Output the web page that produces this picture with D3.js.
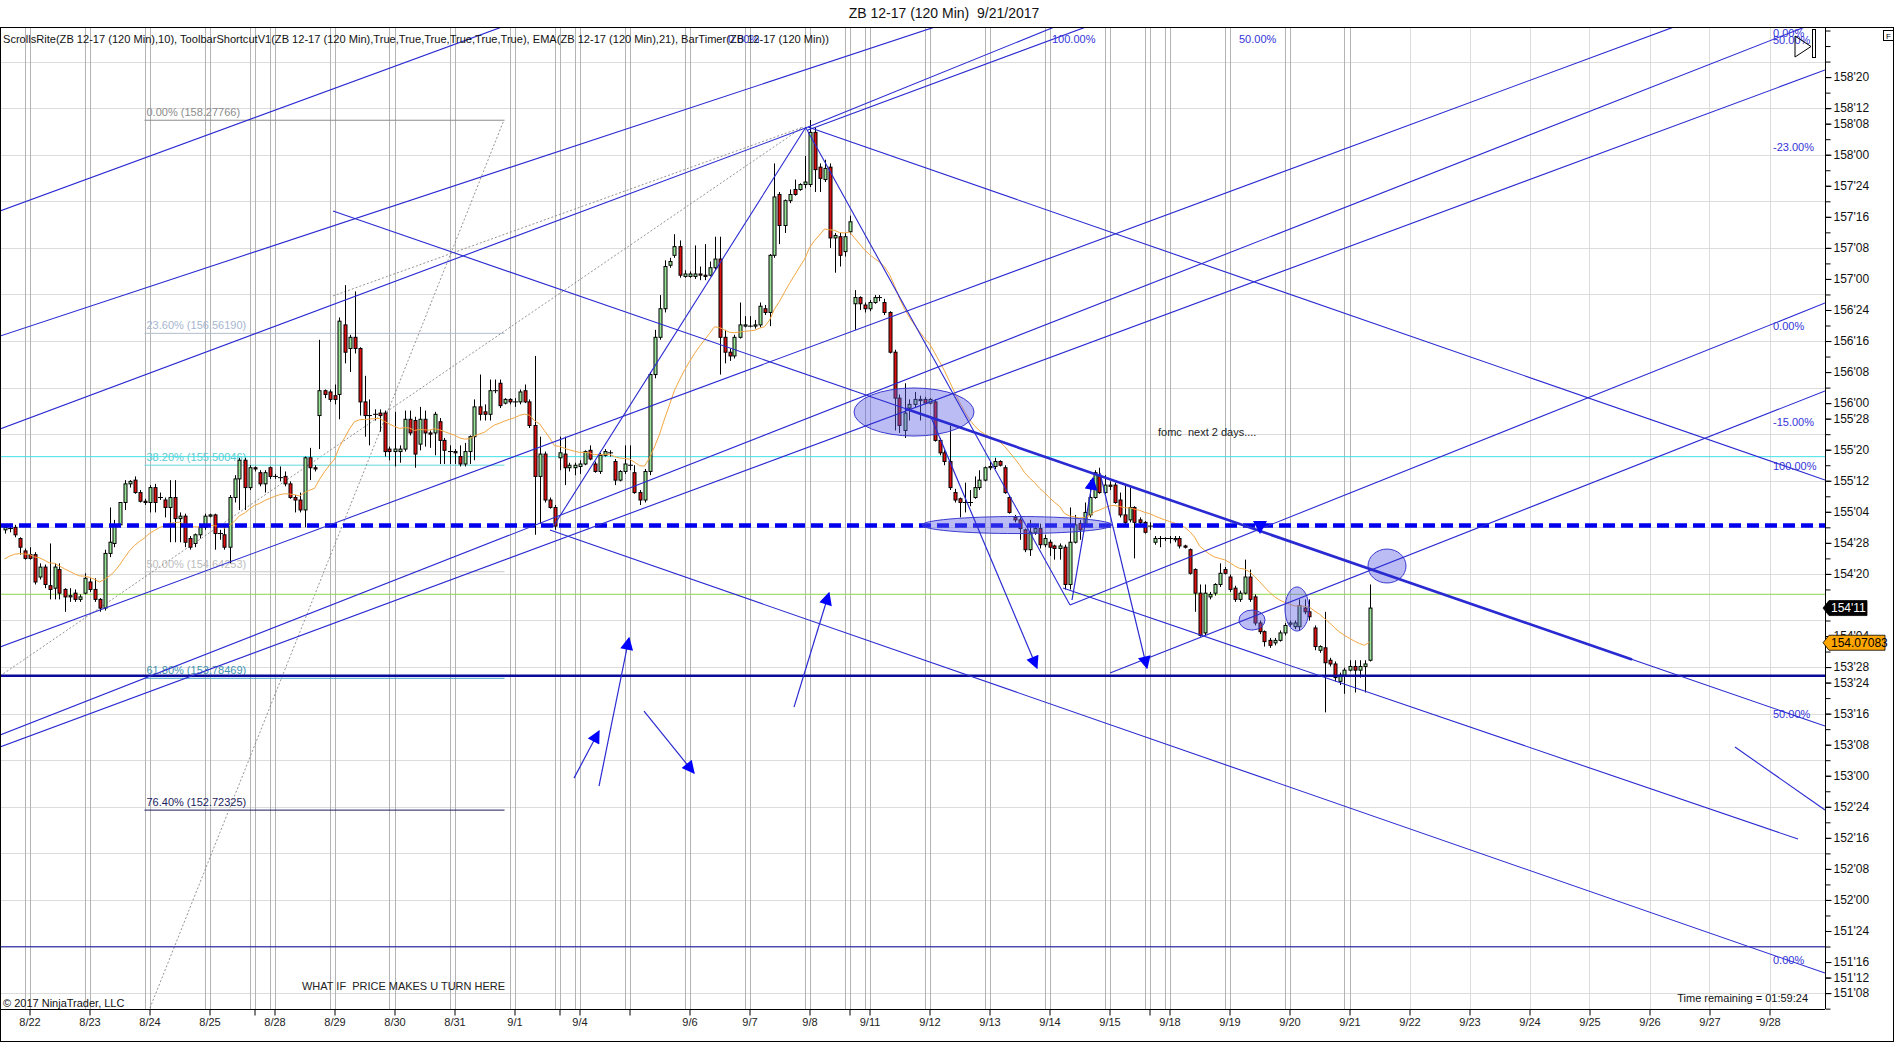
<!DOCTYPE html>
<html>
<head>
<meta charset="utf-8">
<script src="https://cdn.jsdelivr.net/npm/d3@7"></script>
<style>
  body { margin: 0; background: #fff; }
  svg { display: block; font-family: Arial, "Liberation Sans", sans-serif; }
</style>
</head>
<body>
<div id="chart"></div>
<script>
// ---- bars (120 min), index = bar slot on the time axis ----
const opens = [154.98,154.99,155.00,154.91,154.81,154.78,154.78,154.60,154.68,154.53,154.51,154.66,154.50,154.44,154.47,154.42,154.47,154.56,154.50,154.42,
154.35,154.79,154.87,155.02,155.20,155.35,155.38,155.28,155.21,155.20,155.32,155.24,155.22,155.16,155.24,155.07,155.09,154.91,154.87,154.94,
155.00,155.09,155.10,154.95,154.94,154.84,155.24,155.39,155.54,155.32,155.48,155.44,155.35,155.48,155.41,155.40,155.41,155.35,155.24,155.22,
155.14,155.56,155.48,155.90,156.10,156.09,156.06,156.07,156.63,156.44,156.53,156.44,156.01,155.90,155.91,155.92,155.92,155.63,155.61,155.61,
155.63,155.87,155.86,155.67,155.87,155.76,155.76,155.85,155.70,155.61,155.61,155.57,155.51,155.61,155.73,155.97,155.93,155.91,156.10,156.16,
156.00,156.03,156.01,156.01,156.10,156.01,155.82,155.41,155.59,155.22,155.16,155.56,155.59,155.48,155.48,155.49,155.51,155.62,155.51,155.45,
155.58,155.60,155.53,155.38,155.45,155.50,155.44,155.28,155.22,155.45,156.23,156.53,156.76,157.11,157.19,157.26,157.02,157.02,157.02,157.04,
157.03,157.03,157.09,157.16,156.53,156.41,156.38,156.53,156.62,156.62,156.62,156.63,156.76,156.73,157.19,157.68,157.43,157.63,157.72,157.72,
157.76,157.76,158.18,157.90,157.80,157.90,157.33,157.34,157.22,157.38,156.80,156.85,156.79,156.76,156.81,156.85,156.81,156.73,156.41,156.04,
155.78,155.96,155.99,156.02,156.03,156.00,156.01,155.70,155.60,155.53,155.28,155.23,155.20,155.20,155.24,155.32,155.38,155.48,155.49,155.53,
155.48,155.24,155.08,155.06,154.98,154.82,154.96,154.99,154.86,154.88,154.85,154.83,154.84,154.54,154.88,155.03,155.03,155.10,155.24,155.42,
155.28,155.34,155.34,155.22,155.10,155.06,155.16,155.06,155.04,155.01,154.88,154.91,154.91,154.91,154.90,154.91,154.85,154.82,154.66,154.47,
154.15,154.44,154.47,154.54,154.66,154.60,154.51,154.42,154.47,154.60,154.44,154.23,154.16,154.09,154.07,154.09,154.15,154.22,154.20,154.20,
154.35,154.32,154.19,154.01,154.03,153.93,153.90,153.76,153.81,153.85,153.88,153.85,153.88,153.93];
const highs = [155.01,155.03,155.02,154.92,154.83,154.84,154.80,154.71,154.70,154.87,154.71,154.71,154.51,154.51,154.50,154.46,154.63,154.59,154.59,154.43,
154.82,155.16,155.06,155.20,155.38,155.38,155.41,155.30,155.23,155.34,155.35,155.28,155.24,155.38,155.38,155.12,155.11,154.93,154.95,155.02,
155.11,155.11,155.11,154.98,155.00,155.26,155.42,155.56,155.56,155.50,155.49,155.46,155.46,155.49,155.43,155.49,155.45,155.37,155.26,155.28,
155.57,155.64,155.50,156.51,156.11,156.11,156.15,156.69,156.95,156.55,156.90,156.45,156.22,156.03,155.95,155.95,155.94,155.65,155.93,155.66,
155.94,155.94,155.89,155.97,155.94,155.78,155.93,155.88,155.72,155.66,155.63,155.66,155.68,155.74,156.03,156.23,155.99,156.19,156.19,156.19,
156.04,156.04,156.04,156.11,156.15,156.03,156.38,155.73,155.61,155.24,155.18,155.73,155.73,155.52,155.52,155.54,155.62,155.66,155.53,155.60,
155.63,155.62,155.55,155.46,155.66,155.66,155.50,155.30,155.47,156.25,156.59,156.87,157.15,157.17,157.36,157.31,157.07,157.06,157.27,157.10,
157.28,157.14,157.34,157.34,156.59,156.44,156.55,156.81,156.70,156.70,156.67,156.81,156.79,157.20,157.93,157.70,157.64,157.72,157.80,157.77,
157.99,158.28,158.22,157.93,157.96,157.93,157.37,157.37,157.37,157.51,156.91,156.86,156.81,156.83,156.87,156.87,156.84,156.74,156.43,156.07,
156.16,156.03,156.09,156.06,156.05,156.04,156.03,155.72,155.62,155.82,155.31,155.24,155.36,155.30,155.41,155.46,155.49,155.53,155.56,155.54,
155.50,155.26,155.10,155.08,154.99,155.06,155.01,155.03,154.94,154.90,154.86,154.87,154.86,155.16,155.10,155.06,155.20,155.38,155.46,155.48,
155.42,155.37,155.36,155.28,155.34,155.32,155.17,155.08,155.05,155.04,154.93,154.93,154.92,154.93,154.93,154.93,154.86,154.83,154.67,154.54,
154.54,154.48,154.55,154.71,154.68,154.62,154.53,154.49,154.74,154.66,154.46,154.25,154.17,154.11,154.11,154.17,154.23,154.25,154.25,154.42,
154.42,154.42,154.21,154.05,154.32,153.95,153.92,153.83,153.87,153.93,153.93,153.93,153.93,154.54];
const lows = [154.95,154.96,154.92,154.78,154.74,154.74,154.54,154.58,154.51,154.42,154.42,154.42,154.32,154.40,154.40,154.40,154.46,154.48,154.40,154.32,
154.33,154.76,154.84,155.00,155.14,155.32,155.27,155.20,155.18,155.12,155.12,155.22,155.08,154.88,154.88,154.88,154.84,154.82,154.84,154.91,
154.98,155.08,154.82,154.90,154.82,154.71,155.20,155.14,155.14,155.30,155.45,155.33,155.28,155.39,155.39,155.37,155.33,155.23,155.12,155.12,
155.00,155.38,155.45,155.63,156.04,156.01,155.99,155.87,156.32,156.25,156.40,155.90,155.73,155.66,155.86,155.77,155.57,155.54,155.49,155.52,
155.61,155.74,155.48,155.62,155.65,155.64,155.58,155.51,155.51,155.51,155.51,155.49,155.49,155.51,155.54,155.86,155.86,155.86,156.08,155.96,
155.99,155.99,155.97,155.99,156.00,155.80,154.94,155.03,155.20,155.15,154.98,155.46,155.34,155.45,155.42,155.43,155.50,155.54,155.44,155.43,
155.57,155.57,155.34,155.37,155.43,155.46,155.27,155.18,155.20,155.42,156.20,156.51,156.73,157.09,157.17,157.01,157.01,157.01,157.00,156.99,
156.99,157.02,157.07,156.23,156.32,156.34,156.36,156.52,156.61,156.61,156.60,156.61,156.71,156.62,157.17,157.28,157.37,157.61,157.67,157.71,
157.73,157.74,157.70,157.70,157.78,157.25,157.05,157.10,157.18,157.36,156.59,156.75,156.73,156.74,156.80,156.82,156.71,156.40,155.78,155.76,
155.72,155.86,155.96,155.86,155.99,155.99,155.69,155.58,155.50,155.30,155.20,155.08,155.12,155.17,155.23,155.30,155.37,155.46,155.47,155.49,
155.27,155.11,155.04,154.90,154.80,154.77,154.94,154.83,154.84,154.77,154.74,154.74,154.50,154.50,154.87,154.90,155.01,155.08,155.23,155.27,
155.27,155.30,155.19,155.08,155.02,155.04,154.75,155.02,154.95,154.98,154.86,154.84,154.89,154.87,154.88,154.83,154.83,154.62,154.32,154.12,
154.13,154.42,154.45,154.52,154.62,154.48,154.40,154.40,154.46,154.40,154.21,154.14,154.04,154.03,154.05,154.08,154.13,154.20,154.18,154.17,
154.30,154.25,154.01,153.99,153.51,153.88,153.76,153.73,153.66,153.84,153.67,153.79,153.67,153.92];
const closes = [155.00,154.99,154.94,154.84,154.75,154.75,154.56,154.68,154.54,154.50,154.68,154.47,154.44,154.45,154.42,154.44,154.59,154.50,154.42,154.35,
154.79,154.88,155.02,155.20,155.35,155.37,155.28,155.21,155.20,155.32,155.20,155.24,155.16,155.24,155.07,155.09,154.88,154.84,154.94,155.00,
155.09,155.10,154.95,154.95,154.84,155.24,155.39,155.54,155.32,155.48,155.47,155.35,155.44,155.41,155.41,155.40,155.35,155.24,155.22,155.14,
155.56,155.48,155.47,156.10,156.07,156.03,156.03,156.66,156.41,156.53,156.44,156.01,155.90,155.90,155.91,155.90,155.61,155.61,155.63,155.63,
155.87,155.76,155.59,155.87,155.76,155.75,155.91,155.70,155.62,155.61,155.60,155.51,155.61,155.73,155.97,155.91,155.91,156.10,156.10,155.98,
156.03,156.01,156.01,156.09,156.01,155.82,155.41,155.59,155.22,155.16,155.01,155.60,155.48,155.50,155.50,155.51,155.61,155.55,155.45,155.58,
155.61,155.60,155.38,155.45,155.51,155.50,155.28,155.22,155.45,156.23,156.53,156.76,157.10,157.14,157.26,157.03,157.04,157.04,157.04,157.03,
157.02,157.09,157.16,156.53,156.41,156.38,156.53,156.63,156.63,156.62,156.63,156.78,156.73,157.19,157.66,157.43,157.63,157.68,157.68,157.76,
157.78,158.18,157.88,157.81,157.89,157.33,157.35,157.19,157.34,157.46,156.85,156.80,156.76,156.81,156.85,156.85,156.73,156.41,156.04,155.82,
155.92,155.99,156.03,156.03,156.00,156.03,155.70,155.60,155.53,155.32,155.22,155.20,155.20,155.20,155.32,155.38,155.48,155.49,155.53,155.50,
155.28,155.12,155.06,154.99,154.82,154.96,154.99,154.86,154.91,154.84,154.83,154.85,154.54,154.88,155.02,154.98,155.12,155.24,155.44,155.28,
155.34,155.33,155.20,155.10,155.04,155.16,155.04,155.04,154.96,155.01,154.91,154.91,154.91,154.91,154.91,154.85,154.84,154.63,154.47,154.13,
154.47,154.46,154.54,154.63,154.63,154.50,154.42,154.47,154.60,154.42,154.23,154.16,154.08,154.05,154.09,154.15,154.21,154.23,154.23,154.37,
154.32,154.28,154.04,154.04,153.91,153.90,153.79,153.81,153.85,153.88,153.85,153.88,153.90,154.35];
const emaPeriod = 21;
const emaStart = 154.72;          // EMA value where the chart begins
const emaLabel = 154.07083;       // value shown in the orange axis marker

// ---- time axis ----
const dateLabels = ['8/22','8/23','8/24','8/25','8/28','8/29','8/30','8/31','9/1','9/4','9/6','9/7','9/8','9/11','9/12','9/13','9/14','9/15','9/18','9/19','9/20','9/21','9/22','9/23','9/24','9/25','9/26','9/27','9/28'];
const dateBars   = [5,17,29,41,54,66,78,90,102,115,137,149,161,173,185,197,209,221,233,245,257,269,281,293,305,317,329,341,353];
const sessionBars = [50,111,125,169,229];
const lastRealBar = 273;

// ---- price axis ----
const priceLabels = [158.625,158.375,158.25,158.0,157.75,157.5,157.25,157.0,156.75,156.5,156.25,156.0,155.875,155.625,155.375,155.125,
  154.875,154.625,154.125,153.875,153.75,153.5,153.25,153.0,152.75,152.5,152.25,152.0,151.75,151.5,151.375,151.25];
const gridPrices = [151.25,151.625,152.0,152.375,152.75,153.125,153.5,153.875,154.25,154.625,155.0,155.375,155.75,156.125,156.5,156.875,157.25,157.625,158.0,158.375,158.75];

// ---- Fibonacci retracement (from bar 28 to bar 100) ----
const fibBars = [28, 100];
const fibNames = ['0.00%','23.60%','38.20%','50.00%','61.80%','76.40%'];
const fibPrices = [158.27766,156.56190,155.50046,154.64253,153.78469,152.72325];

// ---- horizontal lines ----
const cyanLevel = 155.569;
const dashedLevel = 155.015;
const greenLevel = 154.461;
const supportLevel = 153.805;
const lowLevel = 151.623;

// ---- drawn lines: [bar1, price1, bar2, price2] ----
const trendLines = [
  [-0.9,157.547,99.5,159.029],[-0.9,156.540,186.1,159.029],[-0.9,155.792,160.7,158.223],
  [160.7,158.223,210.5,159.037],[160.7,158.199,216.3,159.029],
  [-0.9,154.036,333.9,159.029],[-0.9,153.328,360.1,159.029],[-0.9,153.231,364.1,158.682],
  [65.7,157.547,364.1,153.400],[109.7,155.003,160.3,158.223],[109.1,154.978,364.1,151.411],
  [160.7,158.223,364.1,155.381],[211.7,154.511,358.7,152.490],[346.1,153.231,364.1,152.724],
  [213.1,154.375,364.1,156.806],[221.1,153.827,364.1,156.098],[160.3,158.215,213.1,154.375]
];
const thickLines = [[180.1,155.957,325.5,153.936]];
const arrowLines = [
  [213.5,154.415,217.7,155.397],[185.3,155.888,206.5,153.867],[219.1,155.438,228.5,153.867],
  [113.9,152.981,118.9,153.360],[118.9,152.917,124.9,154.109],[127.9,153.521,137.9,153.022],
  [157.9,153.553,164.9,154.471]
];
const downMarker = [251.1,154.946];
const dottedLines = [[27.9,151.009,99.9,158.280],[-0.9,153.803,159.7,158.223],[65.7,156.863,159.7,158.223]];
const ellipses = [
  [169.9,156.122,193.9,155.735],[183.5,155.087,221.5,154.950],[246.9,154.334,252.1,154.173],
  [256.1,154.520,260.9,154.165],[272.7,154.825,280.3,154.552]
];
// level tags drawn by the tools: [text, bar, price]
const levelTags = [
  ['0.00%',144.7,158.932],['100.00%',209.5,158.932],['50.00%',246.9,158.932],
  ['0.00%',353.7,158.980],['50.00%',353.7,158.924],['-23.00%',353.7,158.057],['0.00%',353.7,156.621],
  ['-15.00%',353.7,155.843],['100.00%',353.7,155.490],['50.00%',353.7,153.493],['0.00%',353.7,151.516]
];
const notes = [['fomc  next 2 days....',230.7,155.768,'start',11,0],['WHAT IF  PRICE MAKES U TURN HERE',100.1,151.307,'end',11,203]];

// ---------------- drawing ----------------
const W = 1896, H = 1055;
const plot = {left: 1, right: 1825, top: 27, bottom: 1009};
const svg = d3.select('#chart').append('svg').attr('width', W).attr('height', H);

const x = d3.scaleLinear().domain([0, 353]).range([4.5, 1769.5]);
const y = d3.scaleLinear().domain([151.25, 158.625]).range([993.1, 77.1]);

const fmt32 = v => {
  let whole = Math.floor(v), t = Math.round((v - whole) * 32);
  if (t === 32) { whole += 1; t = 0; }
  return whole + "'" + (t < 10 ? '0' + t : t);
};

svg.append('defs').append('clipPath').attr('id', 'clip')
  .append('rect').attr('x', plot.left).attr('y', plot.top)
  .attr('width', plot.right - plot.left).attr('height', plot.bottom - plot.top);
svg.select('defs').append('marker').attr('id', 'ah')
  .attr('viewBox', '0 0 10 10').attr('refX', 9).attr('refY', 5)
  .attr('markerWidth', 14).attr('markerHeight', 13).attr('markerUnits', 'userSpaceOnUse')
  .attr('orient', 'auto')
  .append('path').attr('d', 'M0,0 L10,5 L0,10 Z').attr('fill', '#0000ff');

const g = svg.append('g').attr('clip-path', 'url(#clip)');

// grid
g.selectAll('.hg').data(gridPrices).join('line')
  .attr('x1', plot.left).attr('x2', plot.right)
  .attr('y1', d => Math.round(y(d)) + 0.5).attr('y2', d => Math.round(y(d)) + 0.5)
  .attr('stroke', '#dcdcdc');
const pastTicks = dateBars.filter(b => b <= lastRealBar).concat(sessionBars);
const futureTicks = dateBars.filter(b => b > lastRealBar);
pastTicks.forEach(b => {
  [b - 1, b].forEach(bb => {
    g.append('line').attr('x1', Math.round(x(bb)) + 0.5).attr('x2', Math.round(x(bb)) + 0.5)
      .attr('y1', plot.top).attr('y2', plot.bottom).attr('stroke', '#b4b4b4');
  });
});
futureTicks.forEach(b => {
  g.append('line').attr('x1', Math.round(x(b)) + 0.5).attr('x2', Math.round(x(b)) + 0.5)
    .attr('y1', plot.top).attr('y2', plot.bottom).attr('stroke', '#dcdcdc');
});

// fib retracement
const fibLine = ['#8c8c8c','#b4bccb','#5fd6dc','#c8c8c8','#4aa3c8','#1c1c5e'];
const fibText = ['#8c8c8c','#a6b6d0','#5cc9cf','#bdbdbd','#3f93b0','#1c1c5e'];
fibPrices.forEach((p, i) => {
  g.append('line').attr('x1', x(fibBars[0])).attr('x2', x(fibBars[1]))
    .attr('y1', y(p)).attr('y2', y(p)).attr('stroke', fibLine[i]);
  g.append('text').attr('x', x(fibBars[0]) + 2).attr('y', y(p) - 4)
    .attr('font-size', 11).attr('fill', fibText[i])
    .text(fibNames[i] + ' (' + p.toFixed(5) + ')');
});

// dotted guide lines
g.selectAll('.dl').data(dottedLines).join('line')
  .attr('x1', d => x(d[0])).attr('y1', d => y(d[1])).attr('x2', d => x(d[2])).attr('y2', d => y(d[3]))
  .attr('stroke', '#777').attr('stroke-width', 0.8).attr('stroke-dasharray', '2,2');

// horizontal levels
const hline = (v, color, w, dash) => g.append('line')
  .attr('x1', plot.left).attr('x2', plot.right).attr('y1', y(v)).attr('y2', y(v))
  .attr('stroke', color).attr('stroke-width', w).attr('stroke-dasharray', dash || null);
hline(cyanLevel, '#3fe0e6', 1);
hline(greenLevel, '#8fd44a', 1);
hline(lowLevel, '#1010a0', 1.2);

// candles
const bars = closes.map((c, i) => ({i, o: opens[i], h: highs[i], l: lows[i], c}));
const cg = g.append('g');
cg.selectAll('.wick').data(bars).join('line')
  .attr('x1', d => Math.round(x(d.i)) + 0.5).attr('x2', d => Math.round(x(d.i)) + 0.5)
  .attr('y1', d => y(d.h)).attr('y2', d => y(d.l)).attr('stroke', '#000').attr('stroke-width', 1);
cg.selectAll('.body').data(bars.filter(d => Math.abs(d.o - d.c) >= 0.005)).join('rect')
  .attr('x', d => Math.round(x(d.i)) - 1)
  .attr('y', d => y(Math.max(d.o, d.c)))
  .attr('width', 3)
  .attr('height', d => Math.max(1, Math.abs(y(d.o) - y(d.c))))
  .attr('fill', d => d.c > d.o ? '#98e698' : '#e01010')
  .attr('stroke', '#000').attr('stroke-width', 1);
cg.selectAll('.doji').data(bars.filter(d => Math.abs(d.o - d.c) < 0.005)).join('line')
  .attr('x1', d => Math.round(x(d.i)) - 2).attr('x2', d => Math.round(x(d.i)) + 3)
  .attr('y1', d => y(d.c)).attr('y2', d => y(d.c)).attr('stroke', '#000');

// EMA(21)
let e = emaStart;
const ema = closes.map(c => (e = e + (c - e) * 2 / (emaPeriod + 1)));
g.append('path').datum(ema)
  .attr('d', d3.line().x((d, i) => x(i)).y(d => y(d)))
  .attr('fill', 'none').attr('stroke', '#f2a640').attr('stroke-width', 1);

// heavy horizontal levels on top
hline(dashedLevel, '#0000ee', 4.5, '12,6');
hline(supportLevel, '#0a0a9c', 2.5);

// ellipses
g.selectAll('.el').data(ellipses).join('ellipse')
  .attr('cx', d => (x(d[0]) + x(d[2])) / 2).attr('cy', d => (y(d[1]) + y(d[3])) / 2)
  .attr('rx', d => Math.abs(x(d[2]) - x(d[0])) / 2).attr('ry', d => Math.abs(y(d[3]) - y(d[1])) / 2)
  .attr('fill', 'rgba(96,96,230,0.42)').attr('stroke', '#3a3ad0').attr('stroke-width', 1);

// trend lines
const blue = '#2a2ad2';
g.selectAll('.tl').data(trendLines).join('line')
  .attr('x1', d => x(d[0])).attr('y1', d => y(d[1])).attr('x2', d => x(d[2])).attr('y2', d => y(d[3]))
  .attr('stroke', blue).attr('stroke-width', 1.1);
g.selectAll('.tk').data(thickLines).join('line')
  .attr('x1', d => x(d[0])).attr('y1', d => y(d[1])).attr('x2', d => x(d[2])).attr('y2', d => y(d[3]))
  .attr('stroke', blue).attr('stroke-width', 2.6);
g.selectAll('.ar').data(arrowLines).join('line')
  .attr('x1', d => x(d[0])).attr('y1', d => y(d[1])).attr('x2', d => x(d[2])).attr('y2', d => y(d[3]))
  .attr('stroke', blue).attr('stroke-width', 1.2).attr('marker-end', 'url(#ah)');
{
  const mx = x(downMarker[0]), my = y(downMarker[1]);
  g.append('path').attr('d', `M${mx - 7},${my - 13} L${mx + 7},${my - 13} L${mx},${my} Z`).attr('fill', '#0000ff');
}

// tags & notes
g.selectAll('.tag').data(levelTags).join('text')
  .attr('x', d => x(d[1])).attr('y', d => y(d[2])).attr('dy', '0.35em')
  .attr('font-size', 11).attr('fill', '#3434d8').text(d => d[0]);
const nt = g.selectAll('.note').data(notes).join('text')
  .attr('x', d => x(d[1])).attr('y', d => y(d[2])).attr('dy', '0.35em')
  .attr('text-anchor', d => d[3]).attr('font-size', d => d[4])
  .attr('fill', '#222').style('white-space', 'pre').text(d => d[0]);
nt.filter(d => d[5] > 0).attr('textLength', d => d[5]).attr('lengthAdjust', 'spacingAndGlyphs');

// frames
svg.append('rect').attr('x', 0.5).attr('y', 27.5).attr('width', 1893).attr('height', 1014)
  .attr('fill', 'none').attr('stroke', '#000');
svg.append('line').attr('x1', plot.right + 0.5).attr('x2', plot.right + 0.5).attr('y1', 27).attr('y2', plot.bottom)
  .attr('stroke', '#000');
svg.append('line').attr('x1', 0).attr('x2', plot.right).attr('y1', plot.bottom + 0.5).attr('y2', plot.bottom + 0.5)
  .attr('stroke', '#000');

// axes
const minorPrices = d3.range(151.125, 159.01, 0.125);
svg.append('g').attr('transform', `translate(${plot.right + 0.5},0)`)
  .call(d3.axisRight(y).tickValues(minorPrices).tickSize(5).tickFormat(''))
  .call(a => a.select('.domain').remove());
const ya = svg.append('g').attr('transform', `translate(${plot.right + 0.5},0)`)
  .call(d3.axisRight(y).tickValues(priceLabels).tickSize(6).tickPadding(2).tickFormat(fmt32));
ya.select('.domain').remove();
ya.selectAll('text').attr('font-size', 12).attr('font-family', 'Arial, "Liberation Sans", sans-serif').attr('fill', '#111');

const xa = svg.append('g').attr('transform', `translate(0,${plot.bottom + 0.5})`)
  .call(d3.axisBottom(x).tickValues(dateBars.filter(b => b <= lastRealBar)).tickSize(6).tickPadding(3)
    .tickFormat(d => dateLabels[dateBars.indexOf(d)]));
xa.select('.domain').remove();
svg.append('g').attr('transform', `translate(0,${plot.bottom + 0.5})`)
  .call(d3.axisBottom(x).tickValues(futureTicks).tickSize(6).tickPadding(3)
    .tickFormat(d => dateLabels[dateBars.indexOf(d)]))
  .call(a => a.select('.domain').remove());
svg.append('g').attr('transform', `translate(0,${plot.bottom + 0.5})`)
  .call(d3.axisBottom(x).tickValues(sessionBars).tickSize(6).tickFormat(''))
  .call(a => a.select('.domain').remove());
svg.selectAll('.tick text').filter(function () { return this.textContent.indexOf('/') > 0; })
  .attr('font-size', 11).attr('font-family', 'Arial, "Liberation Sans", sans-serif').attr('fill', '#222');

// price markers
const marker = (v, txt, fill, color, w) => {
  const yc = y(v), x0 = plot.right - 2;
  svg.append('path')
    .attr('d', `M${x0},${yc} L${x0 + 6},${yc - 7.5} L${x0 + w},${yc - 7.5} L${x0 + w},${yc + 7.5} L${x0 + 6},${yc + 7.5} Z`)
    .attr('fill', fill).attr('stroke', '#000').attr('stroke-width', 0.8);
  svg.append('text').attr('x', x0 + 8).attr('y', yc).attr('dy', '0.36em')
    .attr('font-size', 12).attr('fill', color).text(txt);
};
marker(closes[closes.length - 1], fmt32(closes[closes.length - 1]), '#000', '#fff', 44);
marker(emaLabel, String(emaLabel), '#ffa500', '#000', 62);

// chrome texts
svg.append('text').attr('x', 944).attr('y', 13).attr('dy', '0.35em').attr('text-anchor', 'middle')
  .attr('font-size', 14).attr('fill', '#111').style('white-space', 'pre')
  .text('ZB 12-17 (120 Min)  9/21/2017');
svg.append('text').attr('x', 3).attr('y', 39).attr('dy', '0.35em').attr('font-size', 11)
  .attr('textLength', 826).attr('lengthAdjust', 'spacingAndGlyphs').attr('fill', '#111')
  .text('ScrollsRite(ZB 12-17 (120 Min),10), ToolbarShortcutV1(ZB 12-17 (120 Min),True,True,True,True,True,True), EMA(ZB 12-17 (120 Min),21), BarTimer(ZB 12-17 (120 Min))');
svg.append('text').attr('x', 3).attr('y', 1003).attr('dy', '0.35em').attr('font-size', 11).attr('fill', '#111')
  .text('\u00A9 2017 NinjaTrader, LLC');
svg.append('text').attr('x', 1808).attr('y', 998).attr('dy', '0.35em').attr('text-anchor', 'end')
  .attr('font-size', 11).attr('fill', '#111').text('Time remaining = 01:59:24');

// toolbar glyphs top right
svg.append('path').attr('d', 'M1795,36 L1795,57 L1811,46.5 Z').attr('fill', 'none').attr('stroke', '#000');
svg.append('rect').attr('x', 1812.5).attr('y', 29.5).attr('width', 3).attr('height', 28).attr('fill', 'none').attr('stroke', '#000');
svg.append('rect').attr('x', 1883.5).attr('y', 30.5).attr('width', 10).attr('height', 10).attr('fill', '#fff').attr('stroke', '#000');
svg.append('text').attr('x', 1888.5).attr('y', 36).attr('dy', '0.35em').attr('text-anchor', 'middle')
  .attr('font-size', 8).text('F');
</script>
</body>
</html>
